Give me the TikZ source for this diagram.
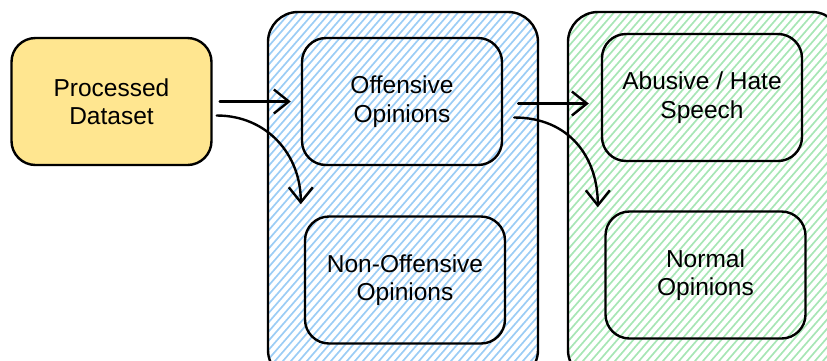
\documentclass[tikz,border=0pt]{standalone}
\usepackage{fontspec}
\setmainfont{Liberation Sans}
\usetikzlibrary{calc, arrows.meta}
\definecolor{hatchblue}{HTML}{9CCDF5}
\definecolor{hatchgreen}{HTML}{A8E6B6}
\definecolor{datayellow}{HTML}{FFE690}
\tikzset{>={Straight Barb[length=15pt,width=24pt]}}
\tikzstyle{box} = [draw, line width=2.4, rounded corners=24, minimum width=200, minimum height=127, align=center, font=\fontsize{24.5}{28.5}\selectfont]
\tikzstyle{flow} = [->, line width=2.4, line cap=round]
\newcommand{\container}[3]{
\begin{scope}
\clip[rounded corners=30] #1 rectangle #2;
\foreach \i in {0,8,...,640}
	\draw[#3, line width=1.7] ($#1+(\i-340,380)$) -- ++(420,-483);
\end{scope}
\draw[line width=2.4, rounded corners=30] #1 rectangle #2;
}

\begin{document}
\begin{tikzpicture}[x=1pt, y=-1pt]
		\useasboundingbox (0,0) rectangle (827,360);
		\clip (0,0) rectangle (827,360);
		
		% Containers
		\container{(268,12)}{(538,380)}{hatchblue}
		\container{(568,12)}{(842,380)}{hatchgreen}
		
		% Boxes
		\node[box, fill=datayellow] (data) at (111.5,101.5) {Processed\\Dataset};
		\node[box] (off) at (402,101.5) {Offensive\\Opinions};
		\node[box] (nonoff) at (405,280) {Non-Offensive\\Opinions};
		\node[box] (abuse) at (702,97.5) {Abusive / Hate\\Speech};
		\node[box] (normal) at (705.5,275) {Normal\\Opinions};
		
		% Tips
		\coordinate (t1) at ($(off.west)+(-10,0)$);
		\coordinate (t2) at ($(off.south west)+(0,38)$);
		\coordinate (t3) at ($(abuse.west)+(-12,6)$);
		\coordinate (t4) at ($(abuse.south west)+(-3,45)$);
		
		% Arrows
		\draw[flow] ($(data.east)+(7,0)$) -- (t1);
		\draw[flow] ($(data.east)+(4,14)$) .. controls +(50,0) and +(0,-50) .. (t2);
		%
		\draw[flow] ($(off.east)+(15,2)$) -- (t3);
		\draw[flow] ($(off.east)+(11,16)$) .. controls +(55,0) and +(0,-50) .. (t4);
	\end{tikzpicture}
\end{document}
